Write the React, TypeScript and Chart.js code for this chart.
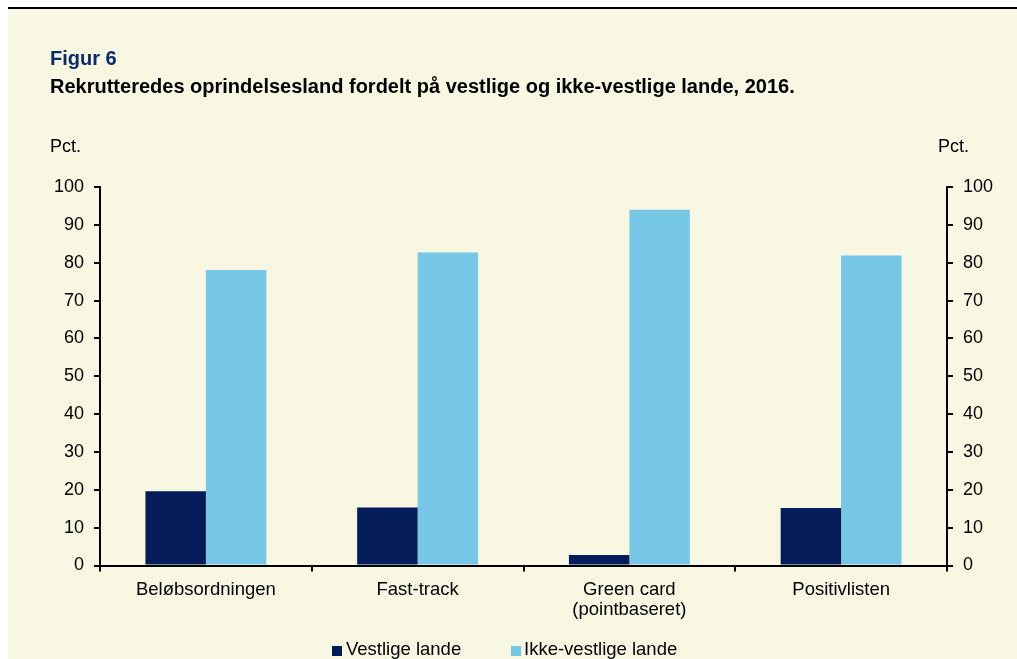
import React, { useEffect, useRef } from "react";
import { Chart, registerables } from "chart.js";

Chart.register(...registerables);

const categories: (string | string[])[] = [
  "Beløbsordningen",
  "Fast-track",
  ["Green card", "(pointbaseret)"],
  "Positivlisten",
];
const vestlige: number[] = [19.6, 15.3, 2.8, 15.2];
const ikkeVestlige: number[] = [78.1, 82.7, 94.0, 81.9];
const seriesNames: string[] = ["Vestlige lande", "Ikke-vestlige lande"];

const FONT = "'Liberation Sans', Arial, Helvetica, sans-serif";
const NAVY = "#041C5A";
const LIGHT = "#76C8E6";
const CREAM = "#F8F7E1";
const colors: string[] = [NAVY, LIGHT];

export default function App() {
  const ref = useRef<HTMLCanvasElement | null>(null);

  useEffect(() => {
    if (!ref.current) return;
    const yAxis = (position: "left" | "right", width: number) => ({
      position,
      min: 0,
      max: 100,
      grid: {
        drawOnChartArea: false,
        drawTicks: true,
        tickLength: 6,
        color: "#000",
        lineWidth: 2,
      },
      border: { display: true, color: "#000", width: 2 },
      ticks: {
        stepSize: 10,
        color: "#000",
        padding: 10,
        font: { family: FONT, size: 18 },
      },
      afterFit: (s: any) => {
        s.width = width;
      },
    });
    const chart = new Chart(ref.current, {
      type: "bar",
      data: {
        labels: categories as any,
        datasets: [
          {
            label: seriesNames[0],
            data: vestlige,
            backgroundColor: colors[0],
            borderWidth: 0,
            yAxisID: "y",
          },
          {
            label: seriesNames[1],
            data: ikkeVestlige,
            backgroundColor: colors[1],
            borderWidth: 0,
            yAxisID: "y",
          },
        ],
      },
      options: {
        animation: false,
        responsive: false,
        maintainAspectRatio: false,
        layout: { padding: { top: 187, left: 0, right: 0, bottom: 0 } },
        datasets: {
          bar: { categoryPercentage: 0.571, barPercentage: 1.0 },
        },
        plugins: {
          tooltip: { enabled: false },
          legend: { display: false },
        },
        scales: {
          x: {
            grid: {
              offset: true,
              drawOnChartArea: false,
              drawTicks: true,
              tickLength: 6,
              color: "#000",
              lineWidth: 2,
            },
            border: { display: true, color: "#000", width: 2 },
            ticks: {
              color: "#000",
              padding: 8,
              maxRotation: 0,
              autoSkip: false,
              font: { family: FONT, size: 18.5, lineHeight: 1.081 },
            },
            afterFit: (s: any) => {
              s.height = 93.5;
            },
          },
          y: yAxis("left", 100) as any,
          y2: yAxis("right", 70) as any,
        },
      },
    });
    return () => chart.destroy();
  }, []);

  const text = (
    t: string,
    left: number,
    top: number,
    size: number,
    bold: boolean,
    color = "#000"
  ) => (
    <div
      style={{
        position: "absolute",
        left,
        top,
        fontFamily: FONT,
        fontSize: size,
        lineHeight: `${size}px`,
        fontWeight: bold ? 700 : 400,
        color,
        whiteSpace: "nowrap",
      }}
    >
      {t}
    </div>
  );

  const legendItem = (i: number, boxLeft: number, textLeft: number) => (
    <React.Fragment key={i}>
      <div
        style={{
          position: "absolute",
          left: boxLeft,
          top: 646,
          width: 10,
          height: 10,
          background: colors[i],
        }}
      />
      {text(seriesNames[i], textLeft, 639.5, 18.5, false)}
    </React.Fragment>
  );

  return (
    <div
      style={{
        position: "fixed",
        left: 0,
        top: 0,
        width: 1017,
        height: 659,
        background: "#fff",
        overflow: "hidden",
      }}
    >
      <div
        style={{
          position: "absolute",
          left: 8,
          top: 7,
          right: 0,
          height: 2,
          background: "#000",
        }}
      />
      <div
        style={{
          position: "absolute",
          left: 8,
          top: 9,
          right: 0,
          bottom: 0,
          background: CREAM,
        }}
      />
      <canvas
        ref={ref}
        width={1017}
        height={659}
        style={{ position: "absolute", left: 0, top: 0, display: "block" }}
      />
      {text("Figur 6", 50, 48, 20, true, "#0B2A6F")}
      {text(
        "Rekrutteredes oprindelsesland fordelt på vestlige og ikke-vestlige lande, 2016.",
        50,
        75.5,
        20,
        true
      )}
      {text("Pct.", 50, 137, 18, false)}
      {text("Pct.", 938, 137, 18, false)}
      {legendItem(0, 332, 346)}
      {legendItem(1, 511, 524)}
    </div>
  );
}
